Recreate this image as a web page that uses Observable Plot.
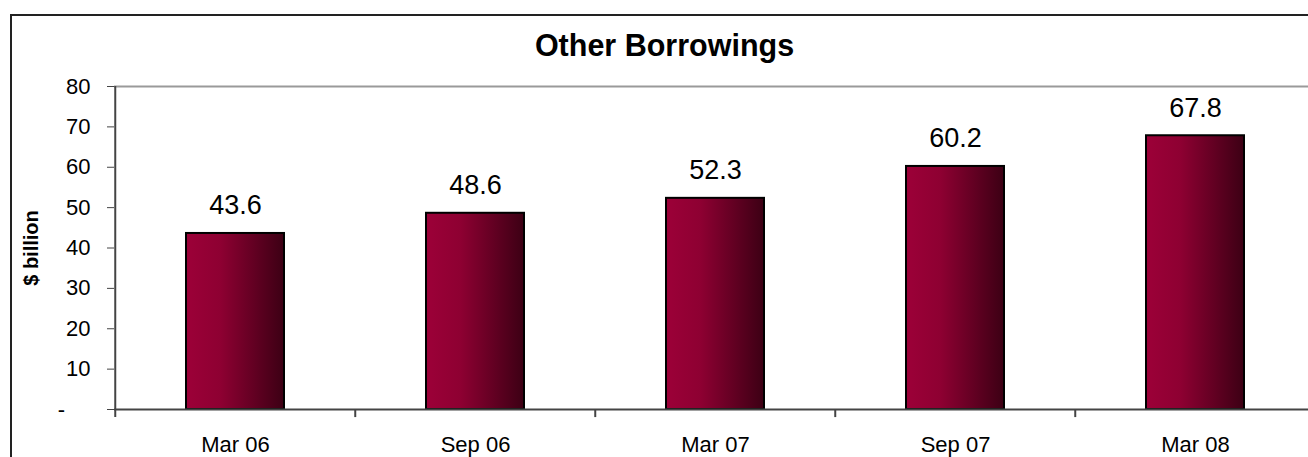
<!DOCTYPE html>
<html>
<head>
<meta charset="utf-8">
<script src="https://cdn.jsdelivr.net/npm/d3@7"></script>
<script src="https://cdn.jsdelivr.net/npm/@observablehq/plot@0.6"></script>
<style>
  html, body { margin: 0; padding: 0; background: #fff; }
  #wrap { position: relative; width: 1308px; height: 457px; overflow: hidden; }
  #border { position: absolute; left: 10px; top: 14px; width: 1400px; height: 600px;
            border-left: 2px solid #222; border-top: 2px solid #222; pointer-events: none; }
</style>
</head>
<body>
<div id="wrap"><div id="border"></div></div>
<script>
const categories = ["Mar 06", "Sep 06", "Mar 07", "Sep 07", "Mar 08"];
const values = [43.6, 48.6, 52.3, 60.2, 67.8];
const yTicks = [0, 10, 20, 30, 40, 50, 60, 70, 80];
const titleText = "Other Borrowings";
const yLabel = "$ billion";

const data = categories.map((c, i) => ({cat: c, value: values[i]}));
const font = "'Liberation Sans', Arial, sans-serif";
const halfStep = 120.25;

const defs = () => {
  const d = d3.create("svg:defs");
  const g = d.append("linearGradient").attr("id", "barGrad")
    .attr("x1", "0").attr("x2", "1").attr("y1", "0").attr("y2", "0");
  g.append("stop").attr("offset", "0").attr("stop-color", "#9c0038");
  g.append("stop").attr("offset", "0.35").attr("stop-color", "#8e0032");
  g.append("stop").attr("offset", "1").attr("stop-color", "#3c0014");
  return d.node();
};

const chart = Plot.plot({
  width: 1308,
  height: 457,
  marginTop: 86,
  marginBottom: 48,
  marginLeft: 114,
  marginRight: 0,
  style: {fontFamily: font, color: "#000", background: "transparent"},
  x: {domain: categories, range: [114, 1316.5], padding: 0, label: null},
  y: {domain: [0, 80], ticks: yTicks, label: null},
  marks: [
    defs,
    Plot.ruleY([80], {stroke: "#9a9a9a", strokeWidth: 2}),
    Plot.barY(data, {x: "cat", y: "value", fill: "url(#barGrad)", stroke: "#000", strokeWidth: 2, insetLeft: 71, insetRight: 71}),
    Plot.ruleY([0], {stroke: "#444", strokeWidth: 2}),
    Plot.ruleX(categories, {x: d => d, y1: (d, i) => i === 0 ? 80 : 0, y2: -2, dx: -halfStep, stroke: "#444", strokeWidth: 2}),
    Plot.axisY({ticks: yTicks, tickSize: 7, tickPadding: 17, fontSize: 22, stroke: "#444", label: null,
      tickFormat: d => d === 0 ? "" : d3.format("d")(d)}),
    Plot.text([0], {y: d => d, text: () => "-", frameAnchor: "left", dx: -53, fontSize: 22, textAnchor: "middle"}),
    Plot.axisX({tickSize: 0, tickPadding: 27, fontSize: 22, label: null}),
    Plot.text(data, {x: "cat", y: "value", text: d => d3.format(".1f")(d.value), fontSize: 27, lineAnchor: "bottom", dy: -19}),
    Plot.text([titleText], {frameAnchor: "top", dy: -40, dx: -47, fontSize: 30.5, fontWeight: "bold", textAnchor: "middle", lineAnchor: "middle"}),
    Plot.text([yLabel], {frameAnchor: "left", dx: -83, rotate: -90, fontSize: 20, fontWeight: "bold", textAnchor: "middle"})
  ]
});
chart.style.position = "absolute";
chart.style.left = "0";
chart.style.top = "0";
document.getElementById("wrap").insertBefore(chart, document.getElementById("border"));
</script>
</body>
</html>
